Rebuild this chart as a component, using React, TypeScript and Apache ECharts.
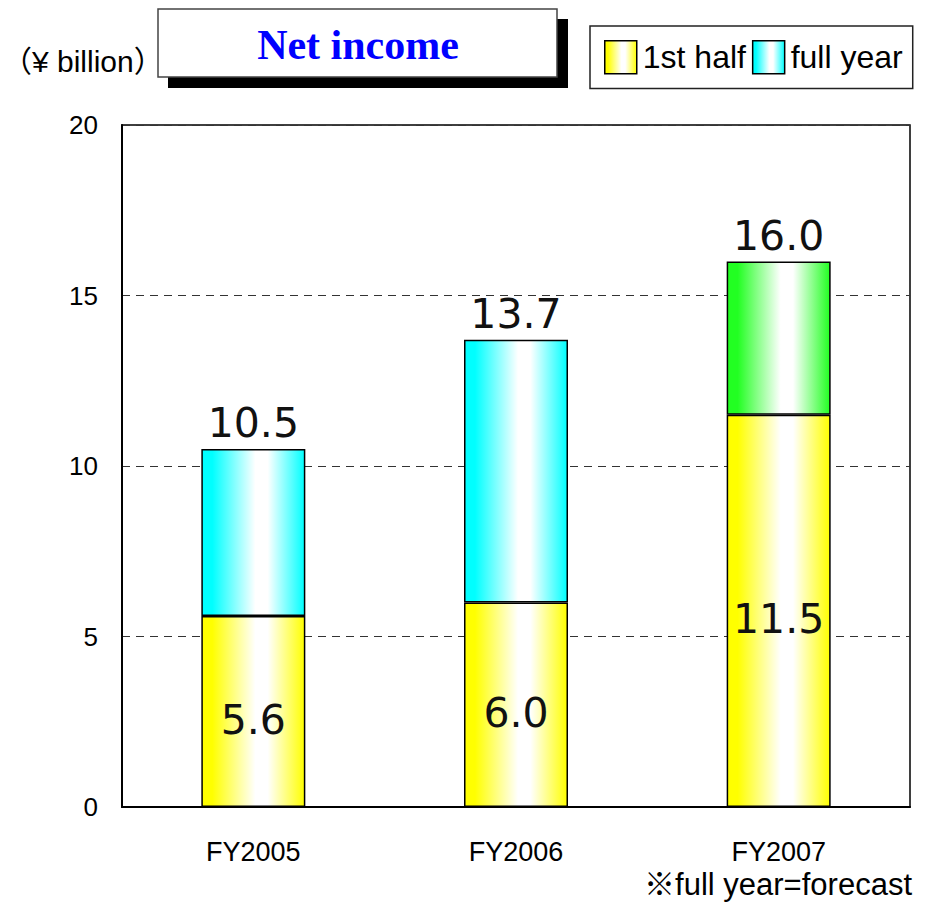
import React, { useEffect, useRef } from "react";
import * as echarts from "echarts";

const categories = ["FY2005", "FY2006", "FY2007"];
const firstHalf = [5.6, 6.0, 11.5];
const fullYear = [10.5, 13.7, 16.0];
const yTicks = { min: 0, max: 20, interval: 5 };

const grad = (c: string) =>
  new echarts.graphic.LinearGradient(0, 0, 1, 0, [
    { offset: 0, color: c },
    { offset: 0.1, color: c },
    { offset: 0.52, color: "#ffffff" },
    { offset: 0.64, color: "#ffffff" },
    { offset: 1, color: c },
  ]);

export default function App() {
  const ref = useRef<HTMLDivElement>(null);
  useEffect(() => {
    document.body.style.margin = "0";
    const chart = echarts.init(ref.current!, null, { renderer: "svg" });
    const rest = fullYear.map((v, i) => +(v - firstHalf[i]).toFixed(1));
    chart.setOption({
      animation: false,
      backgroundColor: "#ffffff",
      grid: {
        left: 122,
        right: 16,
        top: 125,
        bottom: 95,
        show: true,
        borderColor: "#000",
        borderWidth: 1.5,
      },
      legend: {
        left: 590,
        top: 26,
        padding: [14, 10, 14, 14],
        borderColor: "#222",
        borderWidth: 1.5,
        backgroundColor: "#fff",
        itemWidth: 32,
        itemHeight: 33,
        itemGap: 6,
        icon: "rect",
        itemStyle: { borderColor: "#000", borderWidth: 1.5 },
        textStyle: { fontFamily: "Liberation Sans", fontSize: 32, color: "#000", padding: [0, 0, 0, 1] },
        data: ["1st half", "full year"],
      },
      xAxis: {
        type: "category",
        data: categories,
        axisLine: { lineStyle: { color: "#000", width: 2 } },
        axisTick: { inside: true, length: 10, lineStyle: { color: "#777", width: 1.5 } },
        axisLabel: { fontFamily: "Liberation Sans", fontSize: 27, color: "#000", margin: 31 },
      },
      yAxis: {
        type: "value",
        min: yTicks.min,
        max: yTicks.max,
        interval: yTicks.interval,
        axisLine: { show: true, lineStyle: { color: "#000", width: 2 } },
        axisTick: { show: false },
        axisLabel: { fontFamily: "Liberation Sans", fontSize: 26, color: "#000", margin: 24 },
        splitLine: { lineStyle: { color: "#333", width: 1, type: [8, 6] } },
      },
      series: [
        {
          name: "1st half",
          type: "bar",
          stack: "a",
          barWidth: 104,
          data: firstHalf,
          itemStyle: { color: grad("#ffff00"), borderColor: "#000", borderWidth: 1.5 },
          label: {
            show: true,
            position: "inside",
            offset: [0, 8],
            fontFamily: "DejaVu Sans",
            fontSize: 41,
            color: "#111",
            formatter: (p: any) => firstHalf[p.dataIndex].toFixed(1),
          },
        },
        {
          name: "full year",
          type: "bar",
          stack: "a",
          barWidth: 104,
          data: rest.map((v, i) =>
            i === 2 ? { value: v, itemStyle: { color: grad("#22ff22") } } : v
          ),
          itemStyle: { color: grad("#00ffff"), borderColor: "#000", borderWidth: 1.5 },
          label: {
            show: true,
            position: "top",
            distance: 5,
            fontFamily: "DejaVu Sans",
            fontSize: 41,
            color: "#111",
            formatter: (p: any) => fullYear[p.dataIndex].toFixed(1),
          },
        },
      ],
      graphic: [
        {
          type: "text",
          left: 2,
          top: 46,
          style: { text: "（¥ billion）", font: '30px "Liberation Sans", "Noto Sans CJK JP"', fill: "#000" },
        },
        { type: "rect", shape: { x: 168, y: 19, width: 400, height: 69 }, style: { fill: "#000" } },
        {
          type: "rect",
          shape: { x: 158, y: 9, width: 399, height: 68 },
          style: { fill: "#fff", stroke: "#444", lineWidth: 1.5 },
        },
        {
          type: "text",
          x: 358,
          y: 45,
          style: {
            text: "Net income",
            font: 'bold 42px "Liberation Serif"',
            fill: "#0000ff",
            align: "center",
            verticalAlign: "middle",
          },
        },
        {
          type: "text",
          x: 912,
          y: 884,
          style: {
            text: "※full year=forecast",
            font: '31px "Liberation Sans", "Noto Sans CJK JP"',
            fill: "#000",
            align: "right",
            verticalAlign: "middle",
          },
        },
      ],
    });
    return () => chart.dispose();
  }, []);
  return <div ref={ref} style={{ width: 926, height: 902 }} />;
}
